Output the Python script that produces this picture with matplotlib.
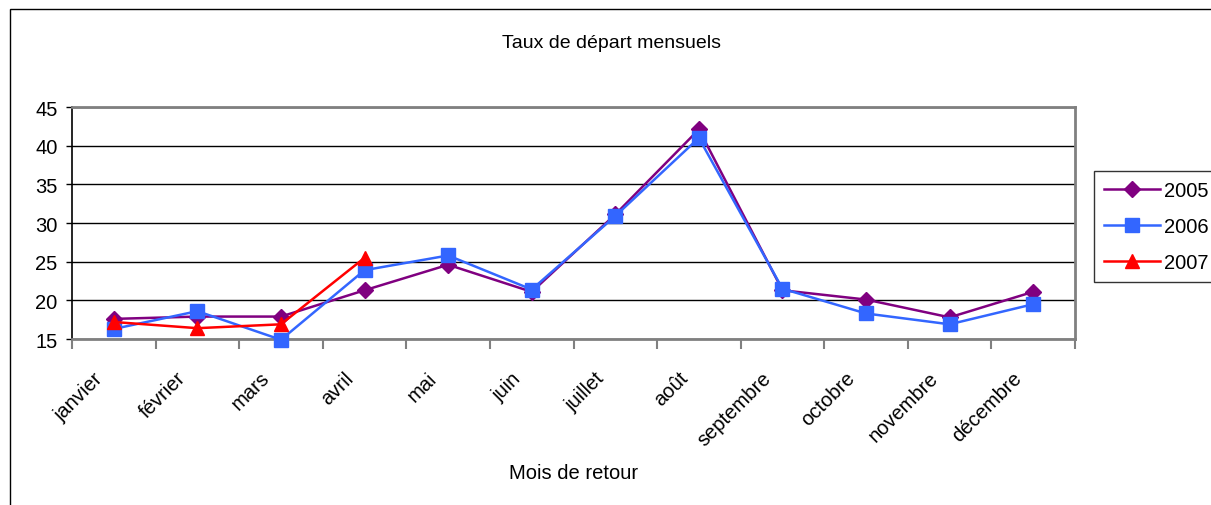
import matplotlib
matplotlib.use('Agg')
import matplotlib.pyplot as plt
import matplotlib.transforms as mtransforms
from matplotlib.patches import Rectangle

plt.rcParams['font.family'] = ['Liberation Sans', 'DejaVu Sans']

months = ['janvier', 'février', 'mars', 'avril', 'mai', 'juin', 'juillet',
          'août', 'septembre', 'octobre', 'novembre', 'décembre']
y2005 = [17.6, 17.9, 17.9, 21.3, 24.6, 21.1, 31.1, 42.1, 21.3, 20.1, 17.8, 21.1]
y2006 = [16.3, 18.6, 14.9, 23.9, 25.8, 21.4, 30.9, 41.0, 21.5, 18.3, 16.9, 19.5]
y2007 = [17.2, 16.4, 16.9, 25.5]
yticks = [15, 20, 25, 30, 35, 40, 45]

W, H = 1211, 506
fig = plt.figure(figsize=(W / 100, H / 100), dpi=100)
fig.patch.set_facecolor('white')
ax = fig.add_axes([72 / W, 1 - 340 / H, (1075 - 72) / W, (340 - 108) / H])

# outer chart border (cut off at right/bottom like the source)
fig.patches.append(Rectangle((10 / W, -0.1), 1.2, 1.1 - 10 / H,
                             transform=fig.transFigure, fill=False,
                             edgecolor='black', linewidth=1.0, clip_on=False))

x = list(range(len(months)))
ax.plot(x, y2005, color='#800080', lw=1.8, marker='D', ms=8,
        label='2005', clip_on=False, zorder=3)
ax.plot(x, y2006, color='#3366FF', lw=1.8, marker='s', ms=9.5,
        label='2006', clip_on=False, zorder=4)
ax.plot(x[:len(y2007)], y2007, color='#FF0000', lw=1.8, marker='^', ms=10.5,
        label='2007', clip_on=False, zorder=5)

ax.set_xlim(-0.5, len(months) - 0.5)
ax.set_ylim(15, 45)
ax.set_yticks(yticks)
ax.set_yticklabels([str(v) for v in yticks], fontsize=14.5)
ax.yaxis.grid(True, color='black', lw=1.0)
ax.set_axisbelow(True)

# tick marks on category boundaries, month names under the centres
ax.set_xticks([i + 0.5 for i in range(-1, len(months))])
ax.set_xticklabels([])
ax.tick_params(axis='x', length=7, color='#808080', width=1.5)
ax.tick_params(axis='y', length=4.5, color='black', width=1.0, pad=6)

lbl_tr = ax.get_xaxis_transform() + mtransforms.ScaledTranslation(
    -21 / 100, -29 / 100, fig.dpi_scale_trans)
for i, m in enumerate(months):
    ax.text(i, 0, m, transform=lbl_tr, rotation=45, ha='right', va='top',
            rotation_mode='anchor', fontsize=14.5)

for s in ['top', 'right', 'bottom']:
    ax.spines[s].set_color('#808080')
    ax.spines[s].set_linewidth(2.0)
ax.spines['left'].set_color('black')
ax.spines['left'].set_linewidth(1.2)

fig.text(612 / W, 1 - 43 / H, 'Taux de départ mensuels', ha='center',
         va='center', fontsize=14)
fig.text(574 / W, 1 - 474 / H, 'Mois de retour', ha='center',
         va='center', fontsize=14.5)

leg = fig.legend(loc='upper left', bbox_to_anchor=(1094 / W, 1 - 172 / H),
                 fontsize=14.5, frameon=True, fancybox=False,
                 edgecolor='black', handlelength=2.8, borderpad=0.5,
                 labelspacing=0.85, handletextpad=0.2, borderaxespad=0)
leg.get_frame().set_linewidth(1.0)

fig.savefig('out.png', dpi=100)
